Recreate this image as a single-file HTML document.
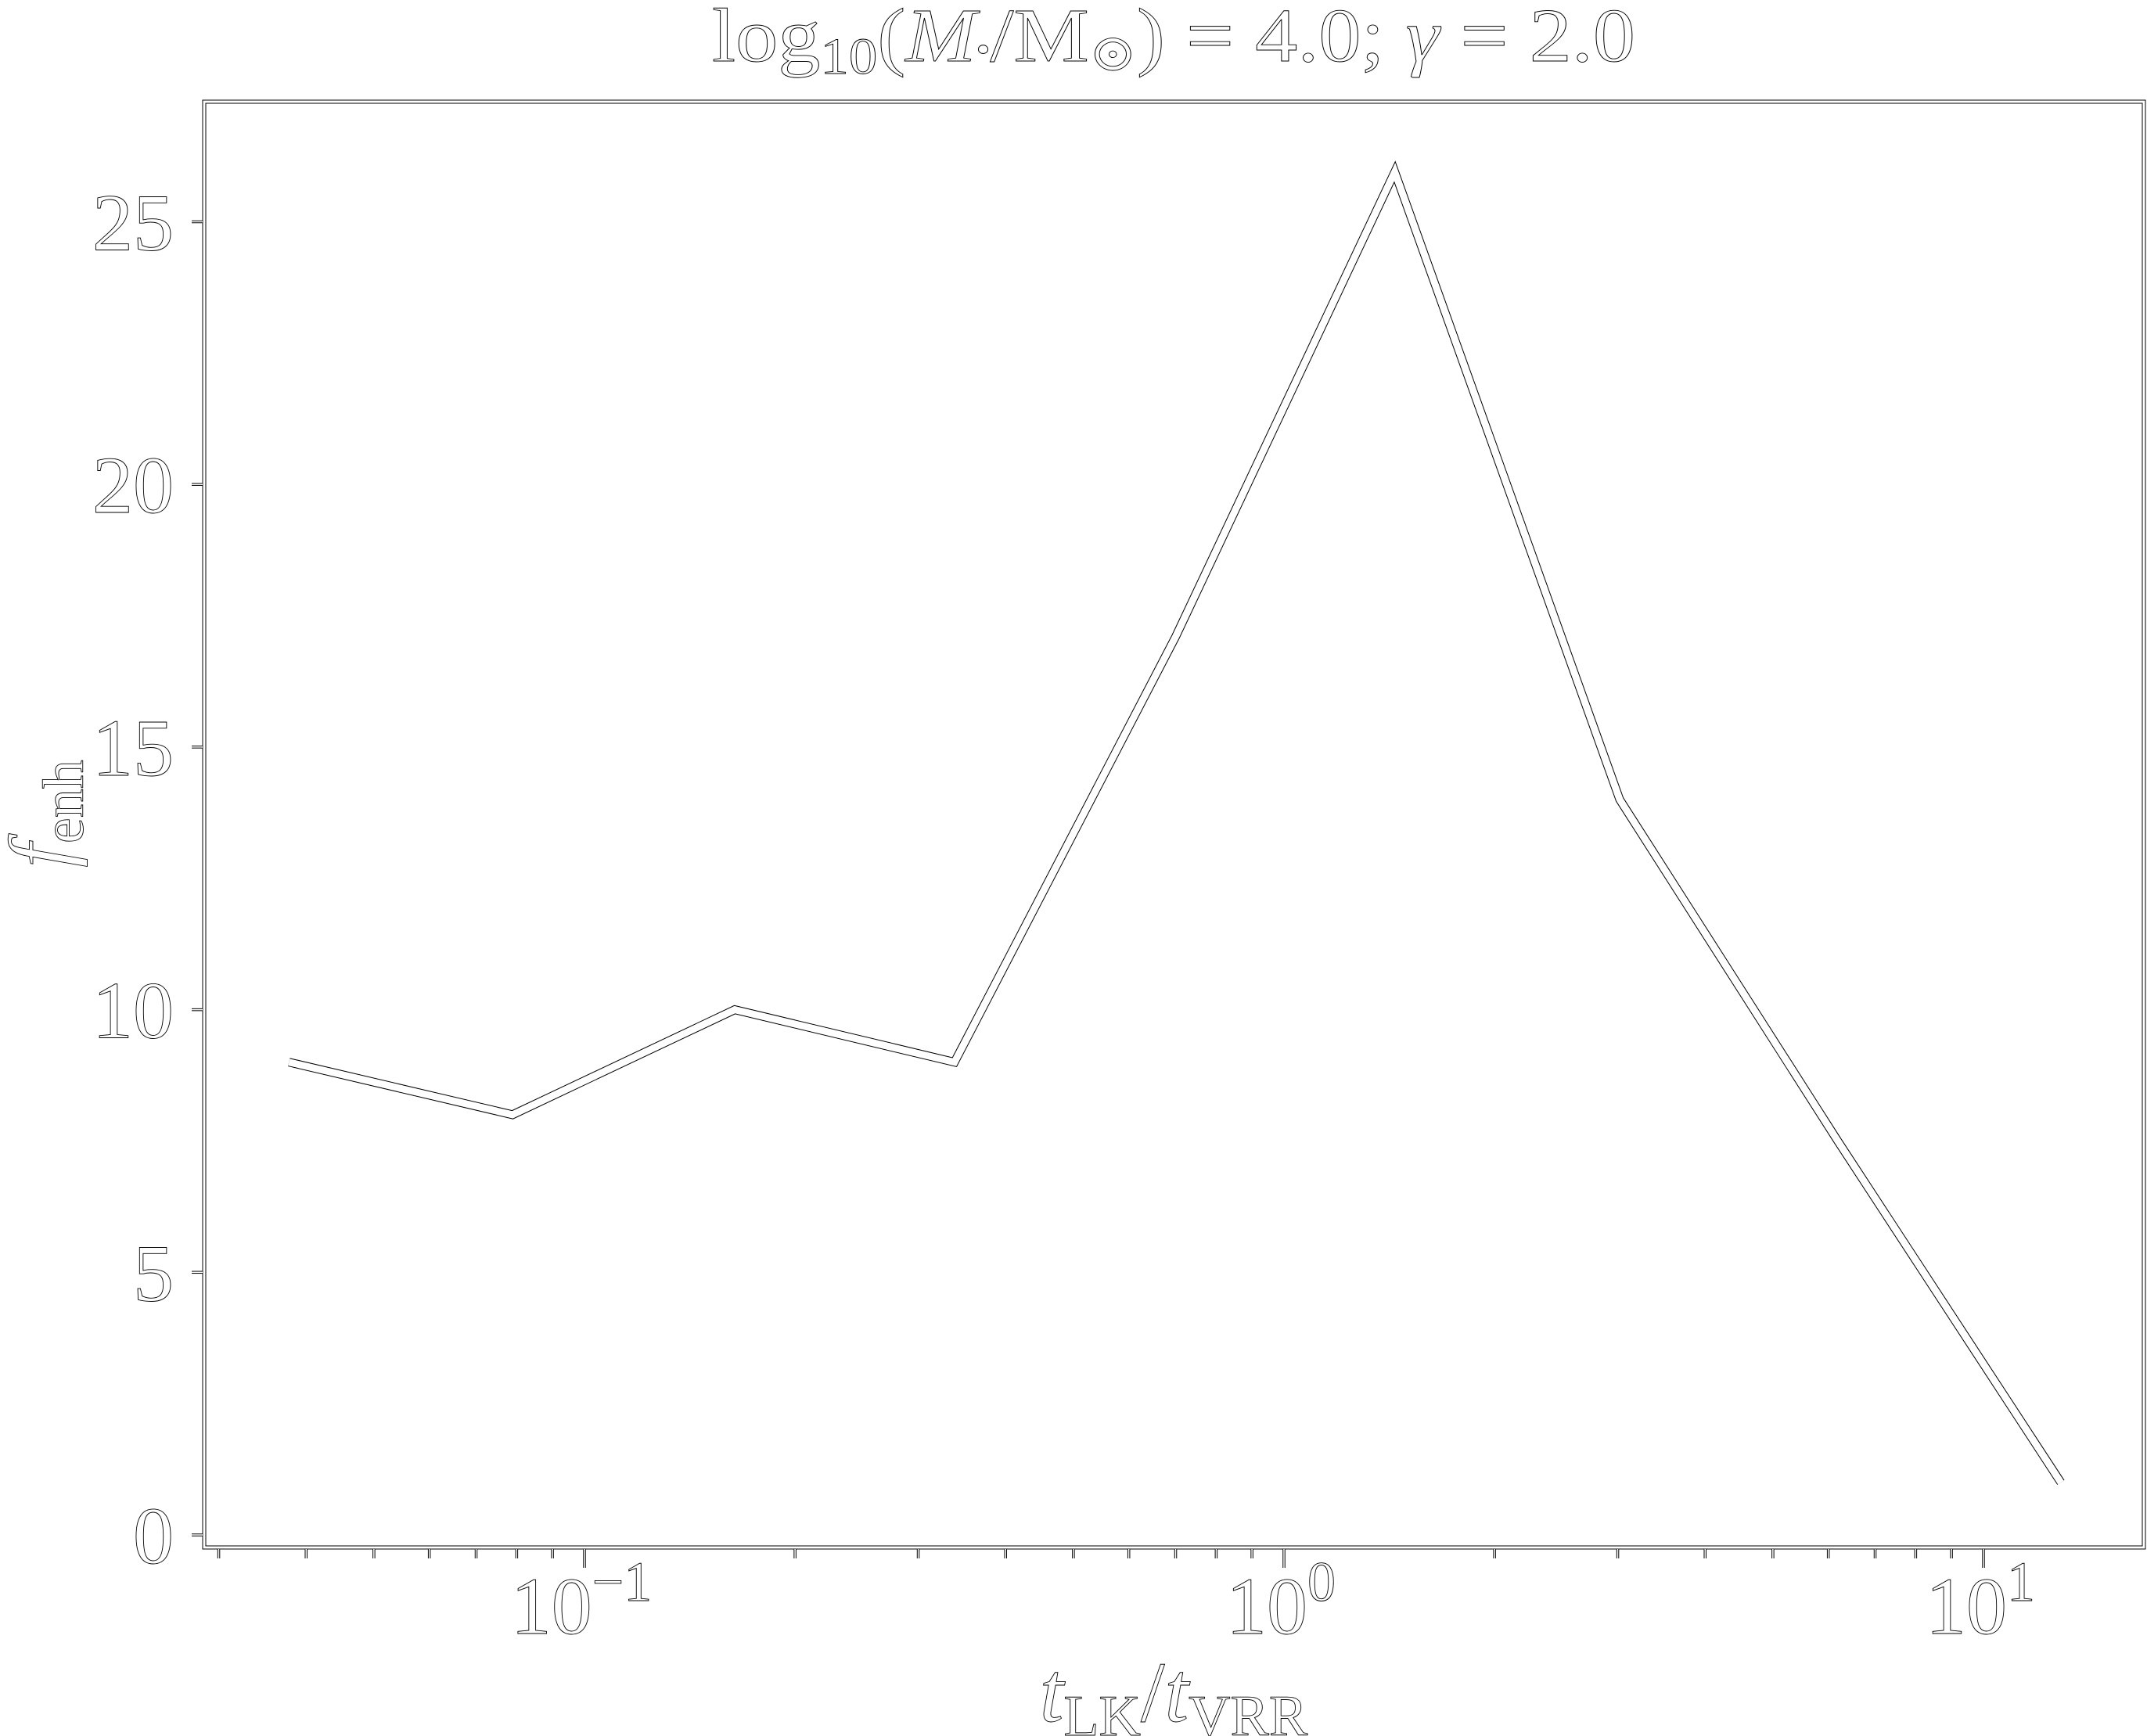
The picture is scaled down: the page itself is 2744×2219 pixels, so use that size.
<!DOCTYPE html>
<html><head><meta charset="utf-8"><style>
html,body{margin:0;padding:0;background:#fff;}
svg{display:block;}
text{fill:#fff;stroke:#000;stroke-width:0.9px;font-family:"Liberation Serif","DejaVu Serif",serif;}
</style></head><body>
<svg id="chart" width="2744" height="2219" xmlns="http://www.w3.org/2000/svg">
<g id="axes"></g>
<g id="series"></g>
<text x="1500" y="78" font-size="98" text-anchor="middle" textLength="1180" lengthAdjust="spacingAndGlyphs">log<tspan font-size="66" dy="16">10</tspan><tspan dy="-16">(</tspan><tspan font-style="italic">M</tspan><tspan font-size="46">•</tspan>/M<tspan font-size="66" dy="12">⊙</tspan><tspan dy="-12">) = 4.0; </tspan><tspan font-style="italic">γ</tspan> = 2.0</text>
<text x="1500" y="2200" font-size="110" text-anchor="middle"><tspan font-style="italic">t</tspan><tspan font-size="74" dy="18">LK</tspan><tspan dy="-18">/</tspan><tspan font-style="italic">t</tspan><tspan font-size="74" dy="18">VRR</tspan></text>
<text transform="translate(88,1040) rotate(-90)" font-size="110" text-anchor="middle"><tspan font-style="italic">f</tspan><tspan font-size="74" dy="18">enh</tspan></text>
</svg>
<script>
const xValues = [0.0378, 0.0789, 0.164, 0.338, 0.70, 1.44, 3.02, 6.19, 12.9];
const yValues = [9.0, 8.0, 10.0, 9.0, 17.1, 25.95, 14.0, 7.5, 1.0];
const yTicks = [0, 5, 10, 15, 20, 25];
const xMajorExps = [-1, 0, 1];

const L=261,R=2740,T=130,B=1978;
const X0=1641, DEC=894;
const Y0=1962, YU=67.14;
function xs(v){return X0+Math.log10(v)*DEC;}
function ys(v){return Y0-v*YU;}
const NS="http://www.w3.org/2000/svg";
const axes=document.getElementById('axes');
const series=document.getElementById('series');
function outlined(parent,d,w,name){
  const o=document.createElementNS(NS,'path');
  o.setAttribute('d',d);o.setAttribute('fill','none');o.setAttribute('stroke','#000');
  o.setAttribute('stroke-width',w+2);o.setAttribute('stroke-linejoin','miter');
  
  
  parent.appendChild(o);
  const i=document.createElementNS(NS,'path');
  i.setAttribute('d',d);i.setAttribute('fill','none');i.setAttribute('stroke','#fff');
  i.setAttribute('stroke-width',w);i.setAttribute('stroke-linejoin','miter');
  
  
  parent.appendChild(i);
}
outlined(axes,`M${L},${T}H${R}V${B}H${L}Z`,3,'plot-frame');
yTicks.forEach(v=>{
  const y=ys(v);
  outlined(axes,`M${L-2},${y}H${L-16}`,1.5,'y-tick');
  const t=document.createElementNS(NS,'text');
  t.setAttribute('x',222);t.setAttribute('y',y+36);
  t.setAttribute('font-size','104');t.setAttribute('text-anchor','end');
  t.textContent=v;
  
  
  axes.appendChild(t);
});
for(let e=-2;e<=1;e++){
  for(let m=1;m<10;m++){
    const v=m*Math.pow(10,e);const x=xs(v);
    if(x<L+2||x>R-2)continue;
    const len=m===1?26:14;
    outlined(axes,`M${x},${B+2}V${B+len}`,1.5,m===1?'x-major-tick':'x-minor-tick');
  }
}
xMajorExps.forEach(e=>{
  const x=xs(Math.pow(10,e));
  const t=document.createElementNS(NS,'text');
  t.setAttribute('x',x-4);t.setAttribute('y',2088);
  t.setAttribute('font-size','104');t.setAttribute('text-anchor','middle');
  t.innerHTML='10<tspan font-size="72" dy="-42">'+(e<0?'−':'')+Math.abs(e)+'</tspan>';
  
  
  axes.appendChild(t);
});
let d='';
xValues.forEach((v,i)=>{d+=(i?'L':'M')+xs(v).toFixed(1)+','+ys(yValues[i]).toFixed(1);});
outlined(series,d,9,'f-enh-line');
</script>
</body></html>
